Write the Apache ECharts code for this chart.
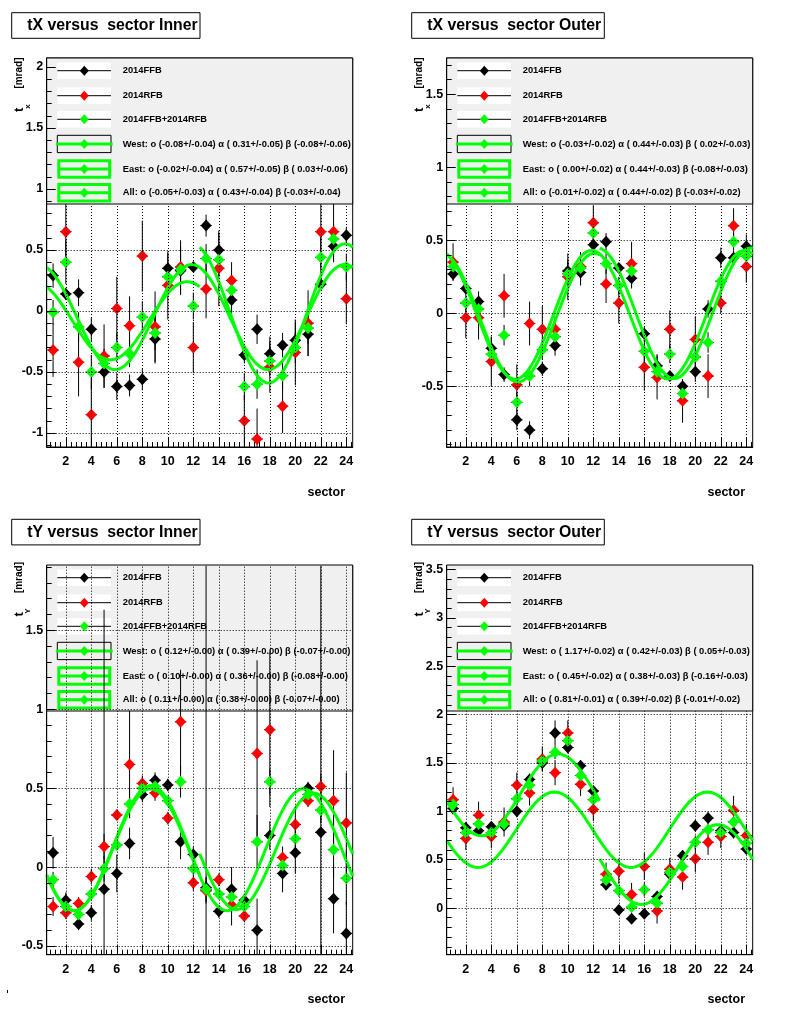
<!DOCTYPE html>
<html><head><meta charset="utf-8">
<script src="https://cdn.jsdelivr.net/npm/echarts@6/dist/echarts.min.js"></script>
<style>html,body{margin:0;padding:0;background:#fff}#c{width:800px;height:1014px}</style>
</head><body><div id="c"></div>
<script>
// ---------------- data ----------------
const SECTORS = [1,2,3,4,5,6,7,8,9,10,11,12,13,14,15,16,17,18,19,20,21,22,23,24];
const X_LABEL_TICKS = [2,4,6,8,10,12,14,16,18,20,22,24];
const SERIES_NAMES = ['2014FFB','2014RFB','2014FFB+2014RFB'];

// tX versus sector Inner
const TXI_FFB     = [0.29,0.14,0.15,-0.15,-0.50,-0.62,-0.61,-0.56,-0.23,0.35,0.33,0.36,0.70,0.50,0.09,-0.36,-0.15,-0.35,-0.28,-0.24,-0.19,0.22,0.53,0.62];
const TXI_FFB_ERR = [0.10,0.05,0.11,0.10,0.13,0.11,0.09,0.09,0.20,0.12,0.20,0.03,0.09,0.14,0.16,0.07,0.12,0.14,0.10,0.15,0.18,0.03,0.13,0.07];
const TXI_RFB     = [-0.32,0.65,-0.42,-0.85,-0.37,0.02,-0.12,0.45,-0.13,0.21,0.36,-0.30,0.18,0.35,0.25,-0.90,-1.05,-0.46,-0.78,-0.34,-0.10,0.65,0.65,0.10];
const TXI_RFB_ERR = [0.22,0.30,0.28,0.30,0.26,0.26,0.24,0.29,0.29,0.28,0.22,0.21,0.24,0.31,0.15,0.21,0.25,0.21,0.22,0.27,0.27,0.30,0.23,0.21];
const TXI_SUM     = [-0.01,0.40,-0.13,-0.50,-0.43,-0.30,-0.35,-0.05,-0.18,0.28,0.34,0.04,0.43,0.42,0.17,-0.62,-0.60,-0.41,-0.53,-0.30,-0.14,0.44,0.59,0.36];
const TXI_SUM_ERR = [0.10,0.18,0.12,0.14,0.12,0.12,0.11,0.13,0.14,0.12,0.12,0.11,0.12,0.13,0.11,0.11,0.12,0.12,0.11,0.13,0.13,0.18,0.12,0.11];
// fit parameters: [o, oErr, alpha, alphaErr, beta, betaErr]
const TXI_FIT_WEST = [-0.08,0.04,0.31,0.05,-0.08,0.06];
const TXI_FIT_EAST = [-0.02,0.04,0.57,0.05,0.03,0.06];
const TXI_FIT_ALL  = [-0.05,0.03,0.43,0.04,-0.03,0.04];
const TXI_Y_TICKS  = [-1,-0.5,0,0.5,1,1.5,2];

// tX versus sector Outer
const TXO_FFB     = [0.27,0.17,0.08,-0.24,-0.42,-0.73,-0.80,-0.38,-0.22,0.29,0.28,0.47,0.49,0.31,0.24,-0.14,-0.36,-0.43,-0.50,-0.40,0.03,0.38,0.38,0.46];
const TXO_FFB_ERR = [0.04,0.04,0.07,0.08,0.05,0.07,0.06,0.05,0.07,0.08,0.09,0.05,0.06,0.03,0.07,0.05,0.08,0.03,0.04,0.07,0.06,0.07,0.05,0.08];
const TXO_RFB     = [0.35,-0.03,-0.03,-0.33,0.12,-0.49,-0.07,-0.11,-0.11,0.25,0.32,0.62,0.20,0.07,0.34,-0.37,-0.44,-0.11,-0.60,-0.18,-0.43,0.07,0.60,0.32];
const TXO_RFB_ERR = [0.13,0.14,0.15,0.17,0.15,0.14,0.15,0.16,0.09,0.16,0.10,0.12,0.13,0.14,0.15,0.16,0.15,0.13,0.15,0.16,0.15,0.07,0.12,0.11];
const TXO_SUM     = [0.32,0.07,0.03,-0.28,-0.15,-0.61,-0.43,-0.25,-0.16,0.27,0.31,0.55,0.34,0.19,0.29,-0.26,-0.40,-0.28,-0.55,-0.30,-0.20,0.22,0.49,0.39];
const TXO_SUM_ERR = [0.06,0.06,0.07,0.08,0.07,0.07,0.07,0.07,0.06,0.08,0.07,0.06,0.07,0.06,0.07,0.08,0.07,0.06,0.07,0.08,0.07,0.05,0.06,0.07];
const TXO_FIT_WEST = [-0.03,0.02,0.44,0.03,0.02,0.03];
const TXO_FIT_EAST = [0.00,0.02,0.44,0.03,-0.08,0.03];
const TXO_FIT_ALL  = [-0.01,0.02,0.44,0.02,-0.03,0.02];
const TXO_Y_TICKS  = [-0.5,0,0.5,1,1.5];

// tY versus sector Inner
const TYI_FFB     = [0.09,-0.21,-0.36,-0.29,-0.14,-0.04,0.15,0.46,0.55,0.52,0.16,0.08,-0.13,-0.28,-0.14,-0.21,-0.40,0.20,-0.04,0.09,0.50,0.22,-0.20,-0.42];
const TYI_FFB_ERR = [0.10,0.05,0.04,0.05,1.77,0.12,0.10,0.05,0.05,0.04,0.11,0.05,2.20,0.04,0.14,0.04,0.20,0.09,0.12,0.13,0.04,2.20,0.22,0.20];
const TYI_RFB     = [-0.25,-0.29,-0.23,-0.06,0.13,0.33,0.65,0.53,0.47,0.31,0.92,-0.10,-0.15,-0.08,-0.24,-0.31,0.72,0.87,0.06,0.27,0.42,0.51,0.42,0.28];
const TYI_RFB_ERR = [0.06,0.04,0.04,0.05,0.08,0.03,0.34,0.05,0.05,0.04,0.33,0.05,0.08,0.04,0.13,0.04,0.59,0.49,0.07,0.11,0.04,0.08,0.32,0.32];
const TYI_SUM     = [-0.08,-0.25,-0.30,-0.17,-0.01,0.14,0.40,0.50,0.51,0.42,0.54,-0.01,-0.14,-0.17,-0.19,-0.25,0.16,0.54,0.01,0.18,0.46,0.36,0.11,-0.07];
const TYI_SUM_ERR = [0.05,0.03,0.03,0.04,0.08,0.03,0.09,0.04,0.04,0.03,0.10,0.04,0.08,0.03,0.09,0.03,0.17,0.08,0.06,0.08,0.03,0.08,0.18,0.17];
const TYI_FIT_WEST = [0.12,0.00,0.39,0.00,-0.07,0.00];
const TYI_FIT_EAST = [0.10,0.00,0.36,0.00,-0.08,0.00];
const TYI_FIT_ALL  = [0.11,0.00,0.38,0.00,-0.07,0.00];
const TYI_Y_TICKS  = [-0.5,0,0.5,1,1.5];

// tY versus sector Outer
const TYO_FFB     = [1.03,0.83,0.80,0.84,0.85,1.00,1.33,1.50,1.81,1.66,1.47,1.21,0.24,-0.02,-0.11,-0.06,0.12,0.35,0.54,0.85,0.93,0.80,0.78,0.61];
const TYO_FFB_ERR = [0.06,0.05,0.05,0.05,0.05,0.06,0.06,0.08,0.13,0.06,0.06,0.05,0.05,0.05,0.05,0.05,0.05,0.05,0.06,0.06,0.06,0.05,0.06,0.05];
const TYO_RFB     = [1.12,0.72,0.96,0.74,0.89,1.27,1.19,1.54,1.40,1.81,1.28,1.02,0.35,0.38,0.14,0.43,-0.03,0.40,0.32,0.51,0.68,0.74,1.01,0.75];
const TYO_RFB_ERR = [0.13,0.12,0.14,0.12,0.15,0.13,0.13,0.13,0.13,0.13,0.12,0.12,0.12,0.13,0.12,0.14,0.13,0.12,0.13,0.14,0.13,0.12,0.15,0.12];
const TYO_SUM     = [1.07,0.78,0.87,0.78,0.87,1.13,1.27,1.52,1.61,1.73,1.37,1.12,0.29,0.18,0.01,0.19,0.05,0.37,0.43,0.68,0.81,0.78,0.89,0.67];
const TYO_SUM_ERR = [0.06,0.06,0.07,0.06,0.07,0.06,0.06,0.07,0.07,0.07,0.06,0.06,0.06,0.06,0.06,0.07,0.06,0.06,0.06,0.07,0.06,0.06,0.07,0.06];
const TYO_FIT_WEST = [1.17,0.02,0.42,0.03,0.05,0.03];
const TYO_FIT_EAST = [0.45,0.02,0.38,0.03,-0.16,0.03];
const TYO_FIT_ALL  = [0.81,0.01,0.39,0.02,-0.01,0.02];
const TYO_Y_TICKS  = [0,0.5,1,1.5,2,2.5,3,3.5];

// ---------------- layout ----------------
const FONT = '"Liberation Sans", Arial, Helvetica, sans-serif';
const panels = [
  {title:'tX versus  sector Inner', kind:'X', sub:'x', ox:0,   oy:0,     yMin:-1.115, yMax:2.074, yTicks:TXI_Y_TICKS,
   ffb:TXI_FFB, ffbErr:TXI_FFB_ERR, rfb:TXI_RFB, rfbErr:TXI_RFB_ERR, sum:TXI_SUM, sumErr:TXI_SUM_ERR,
   fits:[['West',TXI_FIT_WEST],['East',TXI_FIT_EAST],['All',TXI_FIT_ALL]], legendZ:10, titleW:188.3},
  {title:'tX versus  sector Outer', kind:'X', sub:'x', ox:400, oy:0,     yMin:-0.916, yMax:1.749, yTicks:TXO_Y_TICKS,
   ffb:TXO_FFB, ffbErr:TXO_FFB_ERR, rfb:TXO_RFB, rfbErr:TXO_RFB_ERR, sum:TXO_SUM, sumErr:TXO_SUM_ERR,
   fits:[['West',TXO_FIT_WEST],['East',TXO_FIT_EAST],['All',TXO_FIT_ALL]], legendZ:10, titleW:192.6},
  {title:'tY versus  sector Inner', kind:'Y', sub:'Y', ox:0,   oy:507.7, yMin:-0.555, yMax:1.909, yTicks:TYI_Y_TICKS,
   ffb:TYI_FFB, ffbErr:TYI_FFB_ERR, rfb:TYI_RFB, rfbErr:TYI_RFB_ERR, sum:TYI_SUM, sumErr:TYI_SUM_ERR,
   fits:[['West',TYI_FIT_WEST],['East',TYI_FIT_EAST],['All',TYI_FIT_ALL]], legendZ:1.5, titleW:188.3},
  {title:'tY versus  sector Outer', kind:'Y', sub:'Y', ox:400, oy:507.7, yMin:-0.482, yMax:3.539, yTicks:TYO_Y_TICKS,
   ffb:TYO_FFB, ffbErr:TYO_FFB_ERR, rfb:TYO_RFB, rfbErr:TYO_RFB_ERR, sum:TYO_SUM, sumErr:TYO_SUM_ERR,
   fits:[['West',TYO_FIT_WEST],['East',TYO_FIT_EAST],['All',TYO_FIT_ALL]], legendZ:10, titleW:192.6}
];

// fit function (parameters from the legend): o + alpha*cos + beta*sin for tX, o - alpha*sin + beta*cos for tY,
// east half (sectors 13-24) has the beta term mirrored
function fitValue(kind, half, p, s) {
  const t = Math.PI * s / 6;
  const sg = half === 'East' ? -1 : 1;
  if (kind === 'X') return p[0] + p[2] * Math.cos(t) + sg * p[4] * Math.sin(t);
  return p[0] - p[2] * Math.sin(t) + sg * p[4] * Math.cos(t);
}
function fitRange(half) { return half === 'West' ? [0.5, 12.5] : half === 'East' ? [12.5, 24.5] : [0.5, 24.5]; }
function fmtSigned(v) { return (v < 0 ? '-' : ' ') + Math.abs(v).toFixed(2); }
function fitLabel(name, p) {
  return name + ': o (' + fmtSigned(p[0]) + '+/-' + p[1].toFixed(2) + ') \u03B1 (' + fmtSigned(p[2]) + '+/-' + p[3].toFixed(2) +
         ') \u03B2 (' + fmtSigned(p[4]) + '+/-' + p[5].toFixed(2) + ')';
}

const X_MINOR = [];
for (let i = 0; i <= 62; i++) { if (i % 5 === 0) continue; const v = +(i * 0.4).toFixed(2); if (v > 0.5 && v < 24.5) X_MINOR.push(v); }
function yMinor(min, max) {
  const out = [];
  for (let i = Math.ceil(min * 10); i <= Math.floor(max * 10); i++) { if (i % 5 === 0) continue; out.push(i / 10); }
  return out;
}

const grids = [], xAxes = [], yAxes = [], series = [], graphics = [];
const XE = 0.45;

function errorRender(params, api) {
  const cs = params.coordSys;
  const x = api.value(0), y = api.value(1), e = api.value(2);
  const cl = (v, a, b) => Math.max(a, Math.min(b, v));
  const a = api.coord([x, y - e]), b = api.coord([x, y + e]);
  const h1 = api.coord([x - XE, y]), h2 = api.coord([x + XE, y]);
  const y1 = cl(a[1], cs.y, cs.y + cs.height), y2 = cl(b[1], cs.y, cs.y + cs.height);
  const x1 = cl(h1[0], cs.x, cs.x + cs.width), x2 = cl(h2[0], cs.x, cs.x + cs.width);
  const st = {stroke:'#000', lineWidth:1};
  const ch = [];
  if (y1 !== y2) ch.push({type:'line', shape:{x1:a[0], y1:y1, x2:a[0], y2:y2}, style:st});
  ch.push({type:'line', shape:{x1:x1, y1:h1[1], x2:x2, y2:h1[1]}, style:st});
  return {type:'group', children:ch};
}

function diamond(cx, cy, w, h, color, z) {
  return {type:'polygon', shape:{points:[[cx, cy - h/2],[cx + w/2, cy],[cx, cy + h/2],[cx - w/2, cy]]}, style:{fill:color}, z:z, silent:true};
}

panels.forEach((P, p) => {
  const ox = P.ox, oy = P.oy;
  grids.push({left:46.7 + ox, top:58 + oy, width:306, height:389, show:true, borderColor:'#000', borderWidth:1,
              backgroundColor:'transparent', containLabel:false, outerBoundsMode:'none'});
  xAxes.push({gridIndex:p, type:'value', min:0.5, max:24.5, position:'bottom', z:20,
    axisLine:{show:true, onZero:false, lineStyle:{color:'#000', width:1}},
    axisTick:{show:true, inside:true, length:10, customValues:X_LABEL_TICKS, lineStyle:{color:'#000', width:1}},
    axisLabel:{show:true, customValues:X_LABEL_TICKS, margin:8.5, color:'#000', fontSize:12.5, fontWeight:'bold', fontFamily:FONT},
    splitLine:{show:false}});
  xAxes.push({gridIndex:p, type:'value', min:0.5, max:24.5, position:'bottom', z:20,
    axisLine:{show:false, onZero:false},
    axisTick:{show:true, inside:true, length:5, customValues:X_MINOR, lineStyle:{color:'#000', width:1}},
    axisLabel:{show:false}, splitLine:{show:false}});
  yAxes.push({gridIndex:p, type:'value', min:P.yMin, max:P.yMax, position:'left', z:20,
    axisLine:{show:true, onZero:false, lineStyle:{color:'#000', width:1}},
    axisTick:{show:true, inside:true, length:9, customValues:P.yTicks, lineStyle:{color:'#000', width:1}},
    axisLabel:{show:true, customValues:P.yTicks, margin:3.5, color:'#000', fontSize:12.5, fontWeight:'bold', fontFamily:FONT},
    splitLine:{show:false}});
  yAxes.push({gridIndex:p, type:'value', min:P.yMin, max:P.yMax, position:'left', z:20,
    axisLine:{show:false, onZero:false},
    axisTick:{show:true, inside:true, length:5, customValues:yMinor(P.yMin, P.yMax), lineStyle:{color:'#000', width:1}},
    axisLabel:{show:false}, splitLine:{show:false}});

  const xi = 2 * p, yi = 2 * p;
  series.push({type:'line', xAxisIndex:xi, yAxisIndex:yi, z:1, silent:true, symbol:'none',
    data:SECTORS.map((s, i) => [s, P.ffb[i]]), lineStyle:{opacity:0},
    markLine:{silent:true, symbol:'none', animation:false, label:{show:false},
      lineStyle:{type:[1,2], color:'#000', width:1},
      data:X_LABEL_TICKS.map(v => ({xAxis:v})).concat(P.yTicks.map(v => ({yAxis:v})))}});
  const sets = [[P.ffb, P.ffbErr, '#000000'], [P.rfb, P.rfbErr, '#ff0000'], [P.sum, P.sumErr, '#00ff00']];
  sets.forEach((S, k) => {
    series.push({type:'custom', name:SERIES_NAMES[k] + ' err', xAxisIndex:xi, yAxisIndex:yi, z:3, silent:true,
      renderItem:errorRender, encode:{x:0, y:1}, data:SECTORS.map((s, i) => [s, S[0][i], S[1][i]])});
    series.push({type:'scatter', name:SERIES_NAMES[k], xAxisIndex:xi, yAxisIndex:yi, z:3.1, silent:true,
      symbol:'diamond', symbolSize:[11,12], itemStyle:{color:S[2], opacity:1},
      data:SECTORS.map((s, i) => [s, S[0][i]])});
  });
  P.fits.forEach(([name, par]) => {
    const [a, b] = fitRange(name);
    const pts = [];
    for (let i = 0; i <= Math.round((b - a) / 0.05); i++) { const s = a + i * 0.05; pts.push([s, fitValue(P.kind, name, par, s)]); }
    series.push({type:'line', name:name + ' fit', xAxisIndex:xi, yAxisIndex:yi, z:4, silent:true, symbol:'none', showSymbol:false,
      clip:true, lineStyle:{color:'#00ff00', width:3}, data:pts});
  });

  // title box
  const ty = 12.7 + (oy ? 506.6 : 0);
  graphics.push({type:'rect', shape:{x:11.7 + ox, y:ty, width:P.titleW, height:25.6}, style:{fill:'#fff', stroke:'#000', lineWidth:1}, z:30});
  graphics.push({type:'text', x:27.3 + ox, y:ty + 13, style:{text:P.title, fill:'#000', font:'bold 15.8px ' + FONT, textVerticalAlign:'middle', textAlign:'left'}, z:31});

  // axis titles
  const oyT = oy ? 504.5 : 0;
  graphics.push({type:'text', x:19 + ox, y:57.5 + oyT, rotation:Math.PI/2,
    style:{text:'[mrad]', fill:'#000', font:'bold 10px ' + FONT, textAlign:'right', textVerticalAlign:'middle'}, z:31});
  graphics.push({type:'text', x:19 + ox, y:112 + oyT, rotation:Math.PI/2,
    style:{text:'t', fill:'#000', font:'bold 13px ' + FONT, textAlign:'left', textVerticalAlign:'middle'}, z:31});
  graphics.push({type:'text', x:27.5 + ox, y:106.5 + oyT, rotation:Math.PI/2,
    style:{text:P.sub, fill:'#000', font:'bold 8px ' + FONT, textAlign:'center', textVerticalAlign:'middle'}, z:31});
  graphics.push({type:'text', x:345 + ox, y:(oy ? 1000 : 493), style:{text:'sector', fill:'#000', font:'bold 12.5px ' + FONT, textAlign:'right', textVerticalAlign:'middle'}, z:31});

  // legend
  const lz = P.legendZ, ly = oy ? 507 : 0;
  graphics.push({type:'rect', shape:{x:46.7 + ox, y:58 + ly, width:306, height:146}, style:{fill:'#f0f0f0', stroke:'#000', lineWidth:1}, z:lz, silent:true});
  const cy = [70.7, 95.7, 119.3, 144, 169, 192.7].map(v => v + ly);
  const colors = ['#000000', '#ff0000', '#00ff00'];
  const mx = 84.3 + ox;
  for (let i = 0; i < 3; i++) {
    graphics.push({type:'rect', shape:{x:57.3 + ox, y:cy[i] - 8.2, width:53.7, height:16.4}, style:{fill:'#fff'}, z:lz + 0.1, silent:true});
    graphics.push({type:'line', shape:{x1:57.3 + ox, y1:cy[i], x2:111 + ox, y2:cy[i]}, style:{stroke:'#000', lineWidth:1}, z:lz + 0.2, silent:true});
    graphics.push(diamond(mx, cy[i], 9, 10, colors[i], lz + 0.3));
    graphics.push({type:'text', x:122.7 + ox, y:cy[i], style:{text:SERIES_NAMES[i], fill:'#000', font:'bold 9.36px ' + FONT, textVerticalAlign:'middle', textAlign:'left'}, z:lz + 0.3, silent:true});
  }
  graphics.push({type:'rect', shape:{x:57.3 + ox, y:cy[3] - 8.7, width:53.7, height:17.3}, style:{fill:'none', stroke:'#000', lineWidth:1}, z:lz + 0.1, silent:true});
  graphics.push({type:'line', shape:{x1:56 + ox, y1:cy[3], x2:112.7 + ox, y2:cy[3]}, style:{stroke:'#00ff00', lineWidth:3}, z:lz + 0.2, silent:true});
  graphics.push(diamond(mx, cy[3], 9, 10, '#00ff00', lz + 0.3));
  [4, 5].forEach(i => {
    graphics.push({type:'rect', shape:{x:58.8 + ox, y:cy[i] - 8.2, width:50.9, height:16.4}, style:{fill:'none', stroke:'#00ff00', lineWidth:3}, z:lz + 0.1, silent:true});
    graphics.push({type:'line', shape:{x1:58.8 + ox, y1:cy[i], x2:109.7 + ox, y2:cy[i]}, style:{stroke:'#00ff00', lineWidth:3}, z:lz + 0.2, silent:true});
    graphics.push(diamond(mx, cy[i], 9, 10, '#00ff00', lz + 0.3));
  });
  P.fits.forEach(([name, par], j) => {
    graphics.push({type:'text', x:122.7 + ox, y:cy[3 + j], style:{text:fitLabel(name, par), fill:'#000', font:'bold 9.36px ' + FONT, textVerticalAlign:'middle', textAlign:'left'}, z:lz + 0.3, silent:true});
  });
});
graphics.push({type:'rect', shape:{x:7, y:990, width:1, height:3}, style:{fill:'#000'}, z:31});

const chart = echarts.init(document.getElementById('c'), null, {renderer:'canvas'});
chart.setOption({
  animation:false,
  backgroundColor:'#ffffff',
  grid:grids, xAxis:xAxes, yAxis:yAxes, series:series,
  graphic:{elements:graphics}
});
</script>
</body></html>
